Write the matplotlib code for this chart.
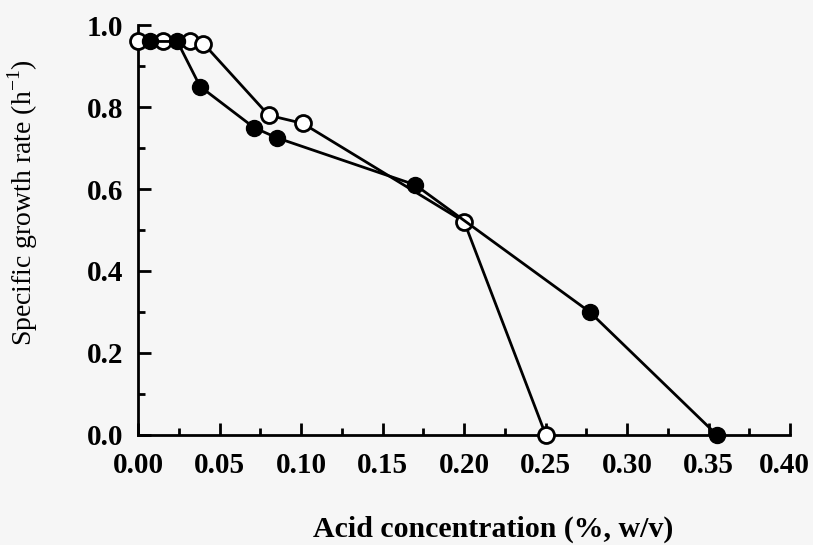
import matplotlib
matplotlib.use('Agg')
import matplotlib.pyplot as plt
import matplotlib.transforms as mtransforms
from matplotlib.ticker import MultipleLocator

# values
acid_open = [0.0, 0.015, 0.032, 0.040, 0.080, 0.101, 0.200, 0.250]
rate_open = [0.96, 0.96, 0.96, 0.955, 0.78, 0.76, 0.52, 0.0]

acid_filled = [0.007, 0.024, 0.038, 0.071, 0.085, 0.170, 0.277, 0.355]
rate_filled = [0.96, 0.96, 0.85, 0.75, 0.725, 0.61, 0.30, 0.0]

x_ticks = [0.00, 0.05, 0.10, 0.15, 0.20, 0.25, 0.30, 0.35, 0.40]
y_ticks = [0.0, 0.2, 0.4, 0.6, 0.8, 1.0]

plt.rcParams['font.family'] = ['Liberation Serif', 'DejaVu Serif']
plt.rcParams['mathtext.fontset'] = 'custom'
plt.rcParams['mathtext.rm'] = 'Liberation Serif'

fig = plt.figure(figsize=(8.13, 5.45), dpi=100, facecolor='#f6f6f6')
ax = fig.add_axes([0.170, 0.202, 0.802, 0.752])
ax.set_facecolor('#f6f6f6')

ax.plot(acid_open, rate_open, color='black', lw=2, marker='o', ms=11.5,
        mfc='white', mec='black', mew=2, clip_on=False, zorder=3)
ax.plot(acid_filled, rate_filled, color='black', lw=2, marker='o', ms=11.5,
        mfc='black', mec='black', clip_on=False, zorder=4)

ax.set_xlim(0, 0.40)
ax.set_ylim(0, 1.0)
ax.set_xticks(x_ticks)
ax.set_yticks(y_ticks)
ax.set_xticklabels(['%.2f' % v for v in x_ticks])
ax.set_yticklabels(['%.1f' % v for v in y_ticks])
ax.xaxis.set_minor_locator(MultipleLocator(0.025))
ax.yaxis.set_minor_locator(MultipleLocator(0.1))

for s in ['top', 'right']:
    ax.spines[s].set_visible(False)
for s in ['left', 'bottom']:
    ax.spines[s].set_linewidth(2)

ax.tick_params(axis='both', which='major', direction='in', length=9, width=2,
               labelsize=21)
ax.tick_params(axis='both', which='minor', direction='in', length=5, width=2)
ax.tick_params(axis='y', which='major', pad=11)
ax.tick_params(axis='x', which='major', pad=12)
for lab in ax.get_xticklabels() + ax.get_yticklabels():
    lab.set_fontweight('bold')

# last x label sits a little left of its tick, as in the scan
last = ax.get_xticklabels()[-1]
last.set_transform(last.get_transform() +
                   mtransforms.ScaledTranslation(-4 / 72, 0, fig.dpi_scale_trans))

ax.set_xlabel('Acid concentration (%, w/v)', fontsize=21.5, fontweight='bold')
ax.xaxis.set_label_coords(0.545, -0.249, transform=ax.transAxes)
ax.xaxis.label.set_va('baseline')
ax.set_ylabel(r'Specific growth rate (h$^{\mathregular{-1}}$)', fontsize=20)
ax.yaxis.set_label_coords(-0.177, 0.566, transform=ax.transAxes)
ax.yaxis.label.set_va('center')

fig.savefig('out.png', dpi=100, facecolor=fig.get_facecolor())
